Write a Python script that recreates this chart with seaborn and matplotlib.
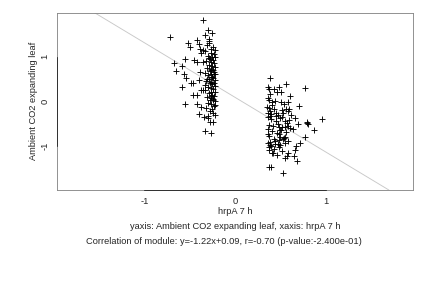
import matplotlib
matplotlib.use("Agg")
import matplotlib.pyplot as plt
import seaborn as sns
import pandas as pd

# cluster around x ~ -0.3
x1 = [-0.72, -0.67, -0.65, -0.58, -0.55, -0.56, -0.54, -0.58, -0.55, -0.52, -0.50, -0.45,
      -0.42, -0.48, -0.46, -0.46, -0.42, -0.42, -0.40, -0.37, -0.42, -0.40, -0.39, -0.38,
      -0.35, -0.35, -0.39, -0.40, -0.38, -0.35, -0.33, -0.27, -0.34, -0.30, -0.24, -0.28,
      -0.35, -0.30, -0.25, -0.33, -0.29, -0.29, -0.29,
      -0.31, -0.24, -0.27, -0.22, -0.33, -0.26, -0.23, -0.30, -0.25, -0.22, -0.28, -0.24,
      -0.32, -0.27, -0.23, -0.29, -0.25, -0.22, -0.31, -0.26, -0.24, -0.28, -0.23, -0.33,
      -0.27, -0.22, -0.30, -0.25, -0.24, -0.29, -0.22, -0.32, -0.26, -0.23, -0.28, -0.25,
      -0.22, -0.30, -0.27, -0.24, -0.33, -0.26, -0.22, -0.29, -0.25, -0.23, -0.31, -0.27,
      -0.24, -0.28, -0.22, -0.30, -0.26, -0.23, -0.32, -0.25, -0.28, -0.24, -0.22, -0.30,
      -0.27, -0.25, -0.33, -0.23, -0.29, -0.26, -0.22, -0.31, -0.24]
y1 = [1.43, 0.86, 0.67, 0.78, 0.94, 0.60, 0.52, 0.31, -0.07, 1.31, 1.21, 0.92,
      0.89, 0.40, 0.42, 0.14, 0.14, -0.05, -0.28, -0.13, 1.38, 1.29, 1.18, 1.07,
      1.14, 0.88, 0.66, 0.47, 0.26, 0.25, -0.66, -0.71, -0.35, -0.37, -0.47, -0.47,
      1.81, 1.60, 1.52, 1.48, 1.40, 1.34, 1.30,
      1.25, 1.22, 1.18, 1.15, 1.12, 1.08, 1.05, 1.02, 1.00, 0.98, 0.95, 0.92,
      0.90, 0.87, 0.85, 0.82, 0.80, 0.77, 0.75, 0.72, 0.70, 0.68, 0.66, 0.64,
      0.62, 0.60, 0.58, 0.55, 0.52, 0.50, 0.48, 0.46, 0.44, 0.42, 0.40, 0.38,
      0.35, 0.32, 0.30, 0.27, 0.25, 0.22, 0.20, 0.18, 0.15, 0.12, 0.10, 0.08,
      0.05, 0.02, 0.00, -0.03, -0.06, -0.10, -0.14, -0.18, -0.22, -0.26, -0.30, -0.33,
      0.70, 0.55, 0.36, 0.62, 0.96, 0.12, -0.08, 0.50, 0.04]

# cluster around x ~ 0.45
x2 = [0.39, 0.36, 0.37, 0.43, 0.49, 0.56, 0.77, 0.46, 0.51, 0.39, 0.61, 0.36,
      0.37, 0.44, 0.51, 0.58, 0.41, 0.71, 0.35, 0.37, 0.43, 0.39, 0.52, 0.56,
      0.60, 0.58, 0.45, 0.53, 0.36, 0.40, 0.39, 0.66, 0.79, 0.81, 0.79, 0.96,
      0.87, 0.70, 0.64, 0.61, 0.55, 0.50, 0.72, 0.77, 0.67, 0.66, 0.65, 0.68,
      0.57, 0.58, 0.55, 0.46, 0.42, 0.40, 0.38, 0.41, 0.53, 0.50, 0.55,
      0.36, 0.40, 0.45, 0.50, 0.55, 0.37, 0.42, 0.47, 0.52, 0.58, 0.36, 0.41,
      0.46, 0.51, 0.56, 0.48, 0.37, 0.43, 0.49, 0.54, 0.59, 0.39, 0.36, 0.44,
      0.50, 0.55, 0.40, 0.47, 0.53, 0.38, 0.43, 0.48, 0.37, 0.52, 0.62, 0.45,
      0.41, 0.54, 0.47, 0.60, 0.52, 0.36, 0.44, 0.39, 0.57, 0.48]
y2 = [0.53, 0.31, 0.28, 0.28, 0.31, 0.38, 0.29, 0.20, 0.21, 0.16, 0.13, 0.07,
      0.04, 0.00, -0.01, -0.01, -0.02, -0.11, -0.12, -0.15, -0.17, -0.21, -0.19, -0.17,
      -0.17, -0.22, -0.25, -0.25, -0.26, -0.28, -0.33, -0.38, -0.47, -0.51, -0.49, -0.40,
      -0.63, -0.50, -0.61, -0.60, -0.58, -0.65, -0.92, -0.80, -0.99, -1.08, -1.23, -1.34,
      -1.22, -1.16, -1.26, -1.20, -1.15, -1.47, -1.47, -1.16, -1.59, -0.80, -0.80,
      -0.35, -0.40, -0.44, -0.37, -0.45, -0.52, -0.55, -0.50, -0.58, -0.54, -0.62, -0.66,
      -0.70, -0.64, -0.68, -0.72, -0.78, -0.83, -0.86, -0.81, -0.88, -0.90, -0.92, -0.95,
      -0.97, -0.93, -1.00, -0.96, -0.85, -1.03, -1.06, -1.02, -1.08, -1.12, -0.30, -0.33,
      -0.08, -0.05, -0.30, -0.42, -0.36, -0.74, -0.88, -0.97, -0.48, -0.58]

slope = -1.22
intercept = 0.09

x_ticks = [-1, 0, 1]
y_ticks = [-1, 0, 1]
x_label = "hrpA 7 h"
y_label = "Ambient CO2 expanding leaf"
sub1 = "yaxis: Ambient CO2 expanding leaf, xaxis: hrpA 7 h"
sub2 = "Correlation of module: y=-1.22x+0.09, r=-0.70 (p-value:-2.400e-01)"

df = pd.DataFrame({"x": x1 + x2, "y": y1 + y2})

sns.set_style("white")
plt.rcParams["font.family"] = ["Liberation Sans", "DejaVu Sans"]
FS = 9.2

fig = plt.figure(figsize=(6, 4), dpi=72)
ax = fig.add_axes([57 / 432, 1 - 190 / 288, (413 - 57) / 432, (190 - 12.7) / 288])

ax.axline((0, intercept), slope=slope, color="#c8c8c8", lw=0.9, zorder=1)
sns.scatterplot(data=df, x="x", y="y", marker="+", color="black", s=34,
                linewidth=0.9, ax=ax, zorder=2)

ax.set_xlim(-1.963, 1.963)
ax.set_ylim(-1.98, 1.98)
ax.set_xticks(x_ticks)
ax.set_yticks(y_ticks)
ax.set_xticklabels([str(t) for t in x_ticks], fontsize=FS)
ax.set_yticklabels([str(t) for t in y_ticks], fontsize=FS, rotation=90, va="center")
ax.tick_params(axis="both", direction="out", length=2.5, width=0.8, color="#333333", pad=5)
ax.set_xlabel(x_label, fontsize=FS, labelpad=1)
ax.set_ylabel(y_label, fontsize=FS, labelpad=3)
for sp in ax.spines.values():
    sp.set_color("#888888")
    sp.set_linewidth(0.9)
# R-style axis segments spanning the tick range
ax.plot([x_ticks[0], x_ticks[-1]], [0, 0], transform=ax.get_xaxis_transform(),
        color="#333333", lw=1.0, clip_on=False, zorder=3)
ax.plot([0, 0], [y_ticks[0], y_ticks[-1]], transform=ax.get_yaxis_transform(),
        color="#333333", lw=1.0, clip_on=False, zorder=3)

fig.text(235 / 432, 1 - 226.7 / 288, sub1, ha="center", va="center", fontsize=FS)
fig.text(224 / 432, 1 - 241.7 / 288, sub2, ha="center", va="center", fontsize=FS)

fig.savefig("out.png", dpi=72)
